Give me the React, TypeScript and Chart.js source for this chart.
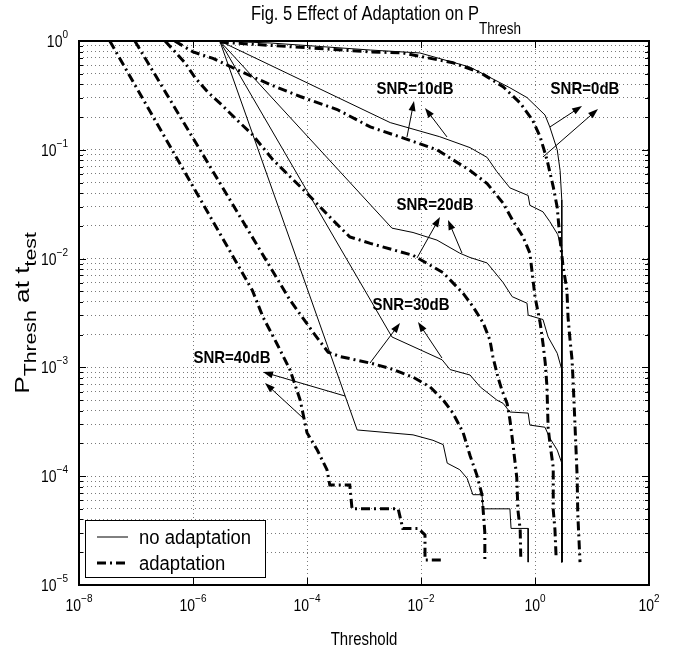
import React, { useEffect, useRef } from 'react';
import { Chart, registerables } from 'chart.js';

Chart.register(...registerables);

// All series values are log10(Threshold) / log10(P_Thresh).
const noAdapt0X = [-5.53, -4.65, -2.89, -2.02, -1.14, -0.44, -0.14, 0.175, 0.26, 0.39, 0.44, 0.47, 0.47];
const noAdapt0Y = [0, -0.018, -0.083, -0.11, -0.24, -0.43, -0.52, -0.68, -0.79, -1.0, -1.19, -1.46, -4.79];

const noAdapt10X = [-5.53, -2.54, -1.67, -1.14, -0.84, -0.67, -0.44, -0.12, -0.09, 0.14, 0.26, 0.4, 0.47, 0.47];
const noAdapt10Y = [0, -0.75, -0.88, -0.98, -1.07, -1.2, -1.35, -1.42, -1.51, -1.57, -1.66, -1.78, -1.92, -4.79];

const noAdapt20X = [-5.53, -2.51, -2.14, -1.72, -1.32, -1.14, -0.84, -0.56, -0.4, -0.14, -0.12, 0.14, 0.23, 0.39, 0.47, 0.47];
const noAdapt20Y = [0, -1.72, -1.76, -1.83, -1.95, -1.99, -2.04, -2.22, -2.35, -2.41, -2.52, -2.56, -2.72, -2.87, -3.02, -4.79];

const noAdapt30X = [-5.53, -2.51, -1.63, -1.49, -1.14, -0.96, -0.67, -0.56, -0.44, -0.12, -0.09, 0.175, 0.26, 0.39, 0.47, 0.47];
const noAdapt30Y = [0, -2.72, -2.93, -3.02, -3.07, -3.18, -3.3, -3.33, -3.41, -3.42, -3.53, -3.55, -3.65, -3.76, -3.88, -4.79];

const noAdapt40X = [-5.53, -3.12, -2.14, -1.79, -1.61, -1.54, -1.32, -1.19, -1.09, -0.93, -0.91, -0.44, -0.42, -0.12, -0.12];
const noAdapt40Y = [0, -3.575, -3.62, -3.67, -3.71, -3.88, -3.94, -4.02, -4.17, -4.17, -4.3, -4.3, -4.48, -4.48, -4.79];

const adapt0X = [-5.53, -2.89, -2.32, -1.44, -0.96, -0.56, -0.26, -0.04, 0.09, 0.21, 0.32, 0.39, 0.44, 0.49, 0.56, 0.58, 0.61, 0.65, 0.67, 0.7, 0.74, 0.75, 0.79];
const adapt0Y = [-0.01, -0.1, -0.11, -0.2, -0.29, -0.42, -0.57, -0.73, -0.88, -1.09, -1.34, -1.53, -1.83, -2.06, -2.29, -2.54, -2.72, -2.93, -3.14, -3.51, -4.01, -4.34, -4.79];

const adapt10X = [-6.32, -6.0, -5.65, -5.12, -4.65, -4.12, -3.47, -2.89, -2.32, -1.72, -1.14, -0.84, -0.56, -0.39, -0.21, -0.09, 0.0, 0.09, 0.14, 0.18, 0.21, 0.23, 0.26, 0.32, 0.32, 0.35, 0.37];
const adapt10Y = [0, -0.1, -0.16, -0.29, -0.4, -0.51, -0.63, -0.79, -0.89, -1.0, -1.19, -1.31, -1.49, -1.65, -1.8, -1.95, -2.35, -2.59, -2.78, -2.96, -3.18, -3.55, -3.69, -3.92, -4.31, -4.49, -4.74];

const adapt20X = [-6.49, -6.14, -5.96, -5.74, -5.49, -5.26, -4.96, -4.6, -4.0, -3.54, -3.25, -2.89, -2.14, -1.61, -1.26, -1.09, -0.91, -0.79, -0.74, -0.65, -0.58, -0.49, -0.44, -0.39, -0.32, -0.3, -0.26, -0.25];
const adapt20Y = [0, -0.2, -0.34, -0.47, -0.59, -0.71, -0.86, -1.09, -1.4, -1.65, -1.8, -1.86, -1.97, -2.13, -2.32, -2.44, -2.59, -2.75, -2.9, -3.09, -3.21, -3.33, -3.48, -3.69, -4.01, -4.31, -4.49, -4.74];

const adapt30X = [-7.02, -4.3, -3.89, -3.63, -3.42, -2.89, -2.54, -2.14, -1.84, -1.61, -1.44, -1.26, -1.14, -1.02, -0.93, -0.91, -0.88, -0.88];
const adapt30Y = [0, -2.38, -2.68, -2.86, -2.9, -2.96, -3.01, -3.09, -3.18, -3.3, -3.42, -3.6, -3.81, -3.99, -4.17, -4.31, -4.52, -4.77];

const adapt40X = [-7.46, -5.56, -4.96, -4.77, -4.53, -4.3, -4.12, -4.0, -3.82, -3.65, -3.6, -3.25, -3.21, -2.4, -2.32, -2.05, -1.93, -1.93, -1.63];
const adapt40Y = [0, -1.74, -2.29, -2.54, -2.78, -3.02, -3.3, -3.6, -3.76, -3.94, -4.08, -4.08, -4.3, -4.3, -4.48, -4.48, -4.54, -4.77, -4.77];

// Tick exponents
const xTickExp = [-8, -6, -4, -2, 0, 2];
const yTickExp = [-5, -4, -3, -2, -1, 0];
const yMinorMult = [2, 3, 4, 5, 6, 7, 8, 9];

// Annotations (log10 coordinates)
const labelText = ['SNR=0dB', 'SNR=10dB', 'SNR=20dB', 'SNR=30dB', 'SNR=40dB'];
const labelX = [0.877, -2.105, -1.754, -2.175, -5.316];
const labelY = [-0.441, -0.441, -1.507, -2.426, -2.914];

const arrowTailX = [0.263, 0.14, -2.246, -1.544, -2.07, -1.281, -2.895, -1.632, -3.333, -4.07];
const arrowTailY = [-0.79, -1.066, -0.882, -0.882, -1.994, -1.949, -2.96, -2.914, -3.263, -3.465];
const arrowHeadX = [0.825, 1.105, -2.123, -1.93, -1.667, -1.526, -2.368, -2.053, -4.772, -4.737];
const arrowHeadY = [-0.597, -0.625, -0.551, -0.616, -1.618, -1.645, -2.592, -2.583, -3.042, -3.143];

const legendLabels = ['no adaptation', 'adaptation'];

const FONT = '"Liberation Sans", Arial, Helvetica, sans-serif';
const DASHDOT = [9, 4, 2, 4];

const pts = (xs: number[], ys: number[]) => xs.map((x, i) => ({ x: Math.pow(10, x), y: Math.pow(10, ys[i]) }));

const solidStyle = { borderColor: '#000', borderWidth: 1, pointRadius: 0, tension: 0, fill: false };
const dashStyle = { borderColor: '#000', borderWidth: 3, borderDash: DASHDOT, pointRadius: 0, tension: 0, fill: false };

// text drawn with a vertical stretch k (the reference's glyphs are taller than they are wide)
function sText(ctx: CanvasRenderingContext2D, text: string, x: number, y: number, k: number) {
  ctx.save();
  ctx.translate(x, y);
  ctx.scale(1, k);
  ctx.fillText(text, 0, 0);
  ctx.restore();
}

function drawPow(ctx: CanvasRenderingContext2D, exp: number, x: number, y: number, align: 'center' | 'right') {
  const base = '10';
  const sup = exp < 0 ? '\u2212' + String(-exp) : String(exp);
  ctx.font = `14px ${FONT}`;
  const bw = ctx.measureText(base).width;
  ctx.font = `10px ${FONT}`;
  const sw = ctx.measureText(sup).width;
  const total = bw + sw;
  const left = align === 'center' ? x - total / 2 : x - total;
  ctx.textAlign = 'left';
  ctx.textBaseline = 'alphabetic';
  ctx.font = `14px ${FONT}`;
  sText(ctx, base, left, y, 1.15);
  ctx.font = `10px ${FONT}`;
  sText(ctx, sup, left + bw, y - 9, 1.15);
}

function drawArrow(ctx: CanvasRenderingContext2D, x1: number, y1: number, x2: number, y2: number) {
  const ang = Math.atan2(y2 - y1, x2 - x1);
  const L = 10;
  const W = 3.5;
  const c = Math.cos(ang);
  const s = Math.sin(ang);
  ctx.beginPath();
  ctx.moveTo(x1, y1);
  ctx.lineTo(x2 - L * 0.7 * c, y2 - L * 0.7 * s);
  ctx.stroke();
  ctx.beginPath();
  ctx.moveTo(x2, y2);
  ctx.lineTo(x2 - L * c + W * s, y2 - L * s - W * c);
  ctx.lineTo(x2 - L * c - W * s, y2 - L * s + W * c);
  ctx.closePath();
  ctx.fill();
}

const decor = {
  id: 'matlabDecor',
  afterDraw(chart: any) {
    const { ctx, chartArea: a, scales } = chart;
    const xs = scales.x;
    const ys = scales.y;
    const px = (lx: number) => xs.getPixelForValue(Math.pow(10, lx));
    const py = (ly: number) => ys.getPixelForValue(Math.pow(10, ly));
    ctx.save();
    ctx.strokeStyle = '#000';
    ctx.fillStyle = '#000';
    ctx.lineWidth = 1;
    ctx.setLineDash([]);

    // tick marks
    const seg = (x1: number, y1: number, x2: number, y2: number) => {
      ctx.beginPath();
      ctx.moveTo(x1, y1);
      ctx.lineTo(x2, y2);
      ctx.stroke();
    };
    for (const e of xTickExp) {
      const x = Math.round(px(e)) + 0.5;
      seg(x, a.bottom, x, a.bottom - 7);
      seg(x, a.top, x, a.top + 7);
    }
    for (const e of yTickExp) {
      const y = Math.round(py(e)) + 0.5;
      seg(a.left, y, a.left + 7, y);
      seg(a.right, y, a.right - 7, y);
      if (e < 0) {
        for (const m of yMinorMult) {
          const yy = Math.round(py(e + Math.log10(m))) + 0.5;
          seg(a.left, yy, a.left + 4, yy);
          seg(a.right, yy, a.right - 4, yy);
        }
      }
    }

    // box
    ctx.lineWidth = 2;
    ctx.strokeRect(a.left, a.top, a.right - a.left, a.bottom - a.top);

    // tick labels
    for (const e of xTickExp) drawPow(ctx, e, px(e), a.bottom + 26, 'center');
    for (const e of yTickExp) drawPow(ctx, e, a.left - 11, py(e) + 6, 'right');

    // title
    ctx.textAlign = 'left';
    ctx.textBaseline = 'alphabetic';
    const tMain = 'Fig. 5 Effect of Adaptation on P';
    ctx.font = `16.5px ${FONT}`;
    const tw = ctx.measureText(tMain).width;
    ctx.font = `13.5px ${FONT}`;
    const tsw = ctx.measureText('Thresh').width;
    const tLeft = 386 - (tw + tsw) / 2;
    ctx.font = `16.5px ${FONT}`;
    sText(ctx, tMain, tLeft, 20, 1.18);
    ctx.font = `13.5px ${FONT}`;
    sText(ctx, 'Thresh', tLeft + tw, 34, 1.18);

    // x label
    ctx.font = `15px ${FONT}`;
    ctx.textAlign = 'center';
    sText(ctx, 'Threshold', (a.left + a.right) / 2, a.bottom + 60, 1.18);

    // y label (rotated, stretched along the vertical)
    ctx.save();
    ctx.translate(29, (a.top + a.bottom) / 2);
    ctx.scale(1, 1.25);
    ctx.rotate(-Math.PI / 2);
    const parts: [string, number, number][] = [
      ['P', 21, 0],
      ['Thresh', 17, 7],
      [' at t', 21, 0],
      ['test', 17, 7],
    ];
    let tot = 0;
    for (const [t, f] of parts) {
      ctx.font = `${f}px ${FONT}`;
      tot += ctx.measureText(t).width;
    }
    let cx = -tot / 2;
    ctx.textAlign = 'left';
    for (const [t, f, dy] of parts) {
      ctx.font = `${f}px ${FONT}`;
      ctx.fillText(t, cx, dy);
      cx += ctx.measureText(t).width;
    }
    ctx.restore();

    // annotations
    ctx.font = `bold 15px ${FONT}`;
    ctx.textAlign = 'center';
    ctx.textBaseline = 'middle';
    for (let i = 0; i < labelText.length; i++) {
      sText(ctx, labelText[i], px(labelX[i]), py(labelY[i]), 1.12);
    }
    ctx.lineWidth = 1;
    for (let i = 0; i < arrowTailX.length; i++) {
      drawArrow(ctx, px(arrowTailX[i]), py(arrowTailY[i]), px(arrowHeadX[i]), py(arrowHeadY[i]));
    }

    // legend
    const lx = a.left + 6;
    const lw = 180;
    const lh = 57;
    const ly = a.bottom - 8 - lh;
    ctx.fillStyle = '#fff';
    ctx.fillRect(lx, ly, lw, lh);
    ctx.strokeStyle = '#000';
    ctx.lineWidth = 1;
    ctx.strokeRect(lx + 0.5, ly + 0.5, lw, lh);
    ctx.fillStyle = '#000';
    ctx.font = `18.5px ${FONT}`;
    ctx.textAlign = 'left';
    ctx.textBaseline = 'middle';
    const rows = [ly + 17, ly + 43];
    for (let i = 0; i < legendLabels.length; i++) {
      ctx.beginPath();
      if (i === 0) {
        ctx.lineWidth = 1;
        ctx.setLineDash([]);
      } else {
        ctx.lineWidth = 3;
        ctx.setLineDash(DASHDOT);
      }
      ctx.moveTo(lx + 12, rows[i]);
      ctx.lineTo(lx + 43, rows[i]);
      ctx.stroke();
      ctx.setLineDash([]);
      sText(ctx, legendLabels[i], lx + 54, rows[i] + 1, 1.08);
    }
    ctx.restore();
  },
};

export default function App() {
  const ref = useRef<HTMLCanvasElement>(null);
  useEffect(() => {
    const canvas = ref.current;
    if (!canvas) return;
    const yTickVals: { value: number; major: boolean }[] = [];
    for (const e of yTickExp) {
      yTickVals.push({ value: Math.pow(10, e), major: true });
      if (e < 0) for (const m of yMinorMult) yTickVals.push({ value: m * Math.pow(10, e), major: false });
    }
    const chart = new Chart(canvas, {
      type: 'line',
      data: {
        datasets: [
          { label: 'no adaptation', data: pts(noAdapt0X, noAdapt0Y), ...solidStyle },
          { label: 'no adaptation 10', data: pts(noAdapt10X, noAdapt10Y), ...solidStyle },
          { label: 'no adaptation 20', data: pts(noAdapt20X, noAdapt20Y), ...solidStyle },
          { label: 'no adaptation 30', data: pts(noAdapt30X, noAdapt30Y), ...solidStyle },
          { label: 'no adaptation 40', data: pts(noAdapt40X, noAdapt40Y), ...solidStyle },
          { label: 'adaptation', data: pts(adapt0X, adapt0Y), ...dashStyle },
          { label: 'adaptation 10', data: pts(adapt10X, adapt10Y), ...dashStyle },
          { label: 'adaptation 20', data: pts(adapt20X, adapt20Y), ...dashStyle },
          { label: 'adaptation 30', data: pts(adapt30X, adapt30Y), ...dashStyle },
          { label: 'adaptation 40', data: pts(adapt40X, adapt40Y), ...dashStyle },
        ] as any,
      },
      options: {
        responsive: false,
        animation: false,
        devicePixelRatio: 1,
        layout: { padding: { top: 41, right: 28, left: 0, bottom: 0 } },
        plugins: { legend: { display: false }, title: { display: false }, tooltip: { enabled: false } },
        scales: {
          x: {
            type: 'logarithmic',
            min: 1e-8,
            max: 1e2,
            afterBuildTicks: (s: any) => {
              s.ticks = xTickExp.map((e) => ({ value: Math.pow(10, e), major: true }));
            },
            afterFit: (s: any) => {
              s.height = 71;
            },
            ticks: { display: false },
            grid: { color: '#7a7a7a', lineWidth: 1, drawTicks: false },
            border: { display: false, dash: [1, 3] },
          },
          y: {
            type: 'logarithmic',
            min: 1e-5,
            max: 1,
            afterBuildTicks: (s: any) => {
              s.ticks = yTickVals.slice();
            },
            afterFit: (s: any) => {
              s.width = 79;
            },
            ticks: { display: false },
            grid: { color: '#7a7a7a', lineWidth: 1, drawTicks: false },
            border: { display: false, dash: [1, 3] },
          },
        },
      } as any,
      plugins: [decor],
    });
    return () => chart.destroy();
  }, []);
  return (
    <div style={{ position: 'fixed', left: 0, top: 0, width: 677, height: 656, background: '#fff' }}>
      <canvas ref={ref} width={677} height={656} style={{ display: 'block' }} />
    </div>
  );
}
